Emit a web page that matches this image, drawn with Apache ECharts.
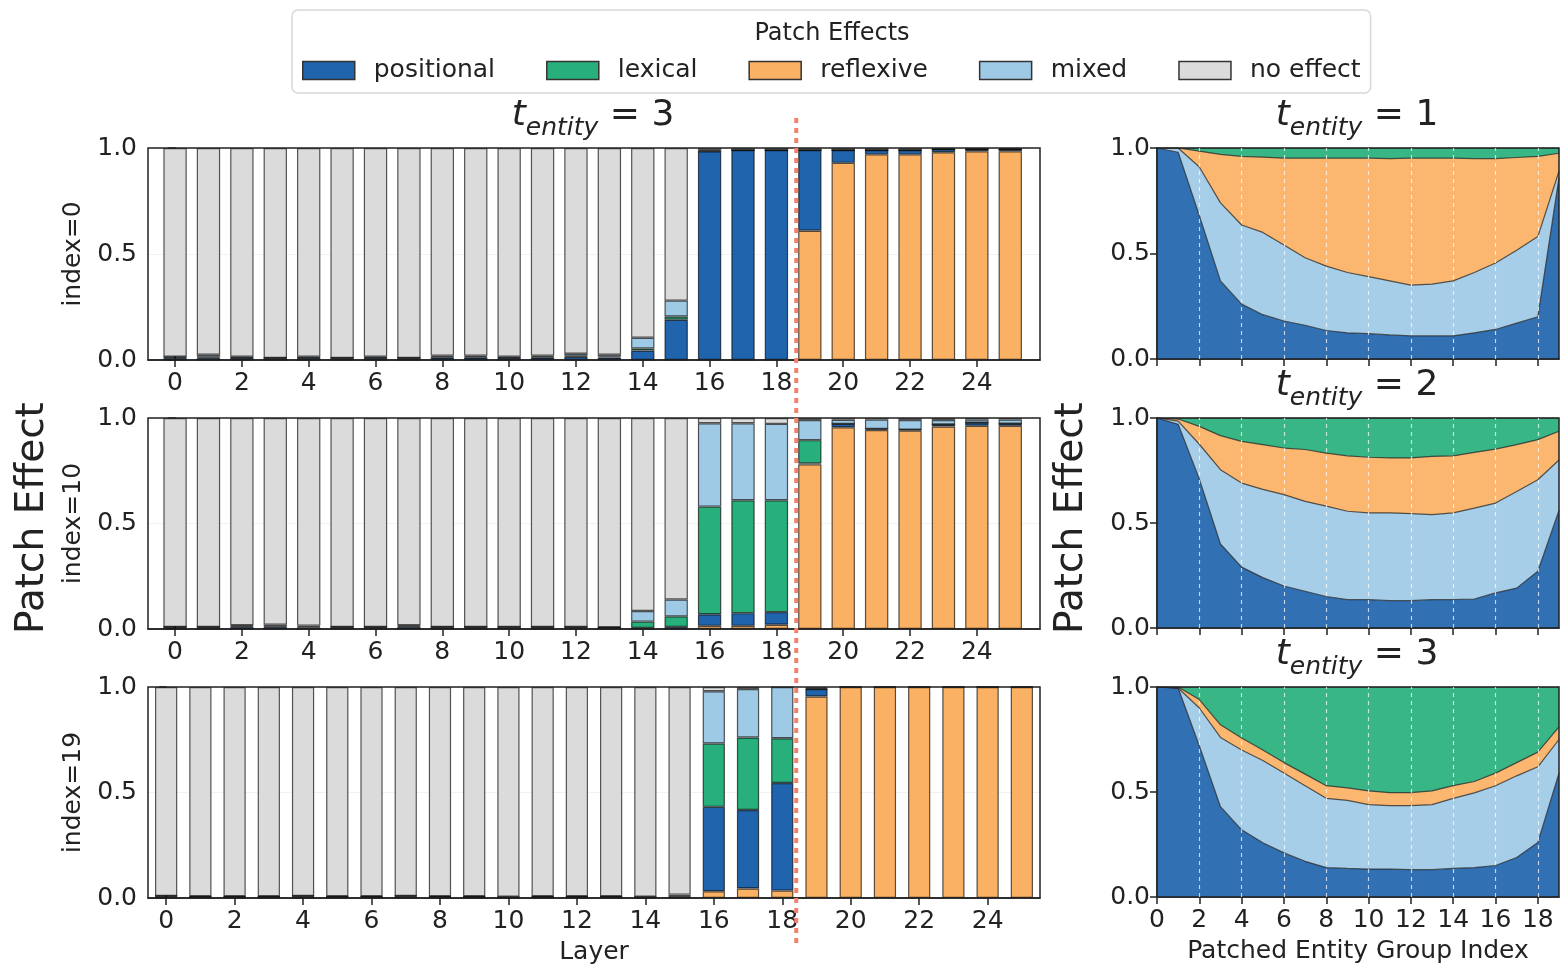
<!DOCTYPE html>
<html>
<head>
<meta charset="utf-8">
<title>Patch Effects</title>
<script src="https://cdn.jsdelivr.net/npm/echarts@6/dist/echarts.min.js"></script>
<style>
  html, body { margin: 0; padding: 0; background: #fff; }
  #chart { width: 1560px; height: 967px; }
</style>
</head>
<body>
<div id="chart"></div>
<script>
// ---- data ----
const layers = [0, 1, 2, 3, 4, 5, 6, 7, 8, 9, 10, 11, 12, 13, 14, 15, 16, 17, 18, 19, 20, 21, 22, 23, 24, 25]
const layerTicks = [0, 2, 4, 6, 8, 10, 12, 14, 16, 18, 20, 22, 24]
const groupIndex = [0, 1, 2, 3, 4, 5, 6, 7, 8, 9, 10, 11, 12, 13, 14, 15, 16, 17, 18, 19]
const groupTicks = [0, 2, 4, 6, 8, 10, 12, 14, 16, 18]
const dividerLayer = 18.5

// left panels: patch index 0 / 10 / 19, t_entity = 3
const idx0Reflexive = [0, 0, 0, 0, 0, 0, 0, 0, 0, 0, 0, 0, 0, 0, 0, 0, 0, 0, 0, 0.610, 0.930, 0.970, 0.970, 0.980, 0.985, 0.985]
const idx0Positional = [0.010, 0.010, 0.010, 0.008, 0.010, 0.008, 0.010, 0.008, 0.012, 0.012, 0.010, 0.012, 0.015, 0.012, 0.045, 0.190, 0.985, 0.990, 0.990, 0.380, 0.060, 0.020, 0.020, 0.015, 0.010, 0.010]
const idx0Lexical = [0.005, 0.005, 0.003, 0.002, 0.003, 0.002, 0.003, 0.002, 0.003, 0.003, 0.003, 0.003, 0.005, 0.005, 0.010, 0.015, 0, 0, 0, 0, 0, 0, 0, 0, 0, 0]
const idx0Mixed = [0, 0.010, 0.002, 0, 0.002, 0, 0.002, 0, 0.005, 0.005, 0.002, 0.005, 0.010, 0.008, 0.050, 0.075, 0.005, 0, 0, 0, 0, 0, 0, 0, 0, 0]
const idx0NoEffect = [0.985, 0.975, 0.985, 0.990, 0.985, 0.990, 0.985, 0.990, 0.980, 0.980, 0.985, 0.980, 0.970, 0.975, 0.895, 0.720, 0.010, 0.010, 0.010, 0.010, 0.010, 0.010, 0.010, 0.005, 0.005, 0.005]

const idx10Reflexive = [0, 0, 0, 0, 0, 0, 0, 0, 0, 0, 0, 0, 0, 0, 0, 0, 0.015, 0.015, 0.020, 0.780, 0.956, 0.943, 0.940, 0.960, 0.963, 0.963]
const idx10Positional = [0.008, 0.008, 0.010, 0.010, 0.008, 0.008, 0.008, 0.010, 0.008, 0.008, 0.008, 0.008, 0.008, 0.006, 0.005, 0.010, 0.055, 0.060, 0.060, 0.005, 0.016, 0.005, 0.005, 0.010, 0.015, 0.010]
const idx10Lexical = [0.002, 0.002, 0.004, 0.004, 0.004, 0.002, 0.002, 0.004, 0.002, 0.002, 0.002, 0.002, 0.002, 0.002, 0.030, 0.050, 0.510, 0.535, 0.530, 0.110, 0, 0, 0, 0, 0, 0]
const idx10Mixed = [0, 0, 0.004, 0.006, 0.004, 0, 0, 0.004, 0, 0, 0, 0, 0, 0, 0.050, 0.080, 0.395, 0.365, 0.362, 0.095, 0.020, 0.045, 0.045, 0.020, 0.015, 0.020]
const idx10NoEffect = [0.990, 0.990, 0.982, 0.980, 0.984, 0.990, 0.990, 0.982, 0.990, 0.990, 0.990, 0.990, 0.990, 0.992, 0.915, 0.860, 0.025, 0.025, 0.028, 0.010, 0.008, 0.007, 0.010, 0.010, 0.007, 0.007]

const idx19Reflexive = [0, 0, 0, 0, 0, 0, 0, 0, 0, 0, 0, 0, 0, 0, 0, 0, 0.032, 0.045, 0.035, 0.955, 1, 1, 1, 1, 1, 1]
const idx19Positional = [0.008, 0.006, 0.006, 0.006, 0.008, 0.006, 0.006, 0.008, 0.006, 0.006, 0.004, 0.006, 0.006, 0.006, 0.004, 0.008, 0.400, 0.372, 0.510, 0.035, 0, 0, 0, 0, 0, 0]
const idx19Lexical = [0.002, 0.002, 0.002, 0.002, 0.002, 0.002, 0.002, 0.002, 0.002, 0.002, 0.002, 0.002, 0.002, 0.002, 0.002, 0.002, 0.300, 0.344, 0.212, 0, 0, 0, 0, 0, 0, 0]
const idx19Mixed = [0, 0, 0, 0, 0, 0, 0, 0, 0, 0, 0, 0, 0, 0, 0, 0.006, 0.248, 0.229, 0.243, 0.005, 0, 0, 0, 0, 0, 0]
const idx19NoEffect = [0.990, 0.992, 0.992, 0.992, 0.990, 0.992, 0.992, 0.990, 0.992, 0.992, 0.994, 0.992, 0.992, 0.992, 0.994, 0.984, 0.020, 0.010, 0, 0.005, 0, 0, 0, 0, 0, 0]

// right panels: t_entity = 1 / 2 / 3
const t1Positional = [1.0, 0.98, 0.68, 0.37, 0.26, 0.21, 0.18, 0.16, 0.135, 0.124, 0.12, 0.114, 0.11, 0.11, 0.11, 0.124, 0.14, 0.17, 0.20, 0.86]
const t1Mixed = [0, 0.02, 0.23, 0.37, 0.375, 0.39, 0.36, 0.32, 0.305, 0.286, 0.27, 0.256, 0.24, 0.245, 0.26, 0.286, 0.315, 0.345, 0.38, 0.03]
const t1Reflexive = [0, 0, 0.075, 0.23, 0.325, 0.357, 0.412, 0.472, 0.512, 0.542, 0.562, 0.58, 0.602, 0.597, 0.582, 0.54, 0.495, 0.44, 0.38, 0.085]
const t1Lexical = [0, 0, 0.015, 0.03, 0.04, 0.043, 0.048, 0.048, 0.048, 0.048, 0.048, 0.05, 0.048, 0.048, 0.048, 0.05, 0.05, 0.045, 0.04, 0.025]

const t2Positional = [1.0, 0.97, 0.71, 0.40, 0.29, 0.24, 0.20, 0.175, 0.15, 0.135, 0.135, 0.13, 0.13, 0.135, 0.135, 0.138, 0.167, 0.19, 0.27, 0.56]
const t2Mixed = [0, 0.015, 0.165, 0.354, 0.40, 0.42, 0.435, 0.428, 0.43, 0.421, 0.413, 0.418, 0.415, 0.405, 0.413, 0.433, 0.428, 0.46, 0.436, 0.24]
const t2Reflexive = [0, 0.01, 0.085, 0.162, 0.199, 0.213, 0.222, 0.247, 0.253, 0.264, 0.265, 0.262, 0.265, 0.277, 0.272, 0.265, 0.257, 0.223, 0.191, 0.137]
const t2Lexical = [0, 0.005, 0.04, 0.084, 0.111, 0.127, 0.143, 0.15, 0.167, 0.18, 0.187, 0.19, 0.19, 0.183, 0.18, 0.164, 0.148, 0.127, 0.103, 0.063]

const t3Positional = [1.0, 0.995, 0.72, 0.43, 0.32, 0.258, 0.21, 0.17, 0.14, 0.136, 0.133, 0.133, 0.13, 0.13, 0.136, 0.14, 0.15, 0.188, 0.26, 0.59]
const t3Mixed = [0, 0, 0.18, 0.33, 0.38, 0.392, 0.38, 0.36, 0.33, 0.324, 0.307, 0.302, 0.305, 0.31, 0.334, 0.356, 0.38, 0.389, 0.36, 0.16]
const t3Reflexive = [0, 0.005, 0.04, 0.06, 0.057, 0.05, 0.05, 0.055, 0.06, 0.06, 0.065, 0.062, 0.062, 0.065, 0.06, 0.054, 0.06, 0.063, 0.07, 0.06]
const t3Lexical = [0, 0, 0.06, 0.18, 0.243, 0.30, 0.36, 0.415, 0.47, 0.48, 0.495, 0.503, 0.503, 0.495, 0.47, 0.45, 0.41, 0.36, 0.31, 0.19]

const effectNames = ['positional', 'lexical', 'reflexive', 'mixed', 'no effect']
const leftIndexLabels = ['index=0', 'index=10', 'index=19']
const rightTEntity = ['1', '2', '3']

// ---- styles ----
const FONT = 'DejaVu Sans'
const TEXT = '#222'
const colors = {
  positional: '#1f64ad',
  lexical: '#27b07b',
  reflexive: '#fbb163',
  mixed: '#9fcae6',
  'no effect': '#dcdbdb'
}

const panelTops = [148, 418, 687]
const panelHeights = [212, 211, 211]
const barLeft = 148
const barFrameWidth = 892
const barXMin = [-0.81, -0.81, -0.53]
const barXMax = [25.89, 25.89, 25.53]
const barWidths = ['70%', '70%', '65%']

const chart = echarts.init(document.getElementById('chart'))

const grids = []
const xAxes = []
const yAxes = []
const series = []

const axisLineStyle = { color: TEXT, width: 1.5 }
const tickFont = { fontSize: 25, fontFamily: FONT, color: TEXT }
const hidden = { show: false }

const valueYAxis = (gi, extra) => Object.assign({
  type: 'value',
  gridIndex: gi,
  min: 0,
  max: 1,
  interval: 0.5,
  axisLine: { show: true, lineStyle: axisLineStyle },
  axisTick: { show: true, length: 7, lineStyle: axisLineStyle },
  axisLabel: Object.assign({ margin: 11, formatter: v => v.toFixed(1) }, tickFont),
  splitLine: { show: false }
}, extra)

// 左侧: 外框网格 (刻度/标签), grid 0..2
for (let i = 0; i < 3; i++) {
  grids.push({
    left: barLeft, width: barFrameWidth, top: panelTops[i], height: panelHeights[i],
    show: true, borderColor: TEXT, borderWidth: 1.5, z: 5
  })
  xAxes.push({
    type: 'value',
    gridIndex: i,
    min: barXMin[i],
    max: barXMax[i],
    axisLine: { show: true, onZero: false, lineStyle: axisLineStyle },
    axisTick: { show: true, length: 7, customValues: layerTicks, lineStyle: axisLineStyle },
    axisLabel: Object.assign({ margin: 11, customValues: layerTicks }, tickFont),
    splitLine: { show: false },
    name: i === 2 ? 'Layer' : '',
    nameLocation: 'middle',
    nameGap: 42,
    nameTextStyle: tickFont
  })
  yAxes.push(valueYAxis(i, {
    name: leftIndexLabels[i],
    nameLocation: 'middle',
    nameRotate: 90,
    nameGap: 62,
    nameTextStyle: tickFont,
    splitLine: { show: true, lineStyle: { color: 'rgba(0,0,0,0.05)', width: 1 } }
  }))
}

// 左侧: 数据网格 (隐藏的类目轴), grid 3..5
const barSets = [
  [idx0Reflexive, idx0Positional, idx0Lexical, idx0Mixed, idx0NoEffect],
  [idx10Reflexive, idx10Positional, idx10Lexical, idx10Mixed, idx10NoEffect],
  [idx19Reflexive, idx19Positional, idx19Lexical, idx19Mixed, idx19NoEffect]
]
const barOrder = ['reflexive', 'positional', 'lexical', 'mixed', 'no effect']

barSets.forEach((set, i) => {
  const gi = i + 3
  const pxPerUnit = barFrameWidth / (barXMax[i] - barXMin[i])
  grids.push({
    left: barLeft + (-0.5 - barXMin[i]) * pxPerUnit,
    width: layers.length * pxPerUnit,
    top: panelTops[i],
    height: panelHeights[i]
  })
  xAxes.push({
    type: 'category', gridIndex: gi, data: layers, boundaryGap: true,
    axisLine: hidden, axisTick: hidden, axisLabel: hidden, splitLine: hidden
  })
  yAxes.push({
    type: 'value', gridIndex: gi, min: 0, max: 1,
    axisLine: hidden, axisTick: hidden, axisLabel: hidden, splitLine: hidden
  })
  set.forEach((values, k) => {
    const name = barOrder[k]
    series.push({
      type: 'bar',
      name: name,
      xAxisIndex: gi,
      yAxisIndex: gi,
      stack: 'bars' + gi,
      barWidth: barWidths[i],
      data: values,
      itemStyle: { color: colors[name], borderColor: 'rgba(0,0,0,0.65)', borderWidth: 1.2 },
      emphasis: { disabled: true },
      silent: true
    })
  })
})

// 右侧堆叠面积图, grid 6..8
const areaSets = [
  [t1Positional, t1Mixed, t1Reflexive, t1Lexical],
  [t2Positional, t2Mixed, t2Reflexive, t2Lexical],
  [t3Positional, t3Mixed, t3Reflexive, t3Lexical]
]
const areaOrder = ['positional', 'mixed', 'reflexive', 'lexical']

areaSets.forEach((set, j) => {
  const gi = j + 6
  grids.push({
    left: 1157, width: 402, top: panelTops[j], height: panelHeights[j] - 1,
    show: true, borderColor: TEXT, borderWidth: 1.5, z: 5
  })
  xAxes.push({
    type: 'category',
    gridIndex: gi,
    data: groupIndex,
    boundaryGap: false,
    axisLine: { show: true, onZero: false, lineStyle: axisLineStyle },
    axisTick: { show: true, length: 7, interval: 1, lineStyle: axisLineStyle },
    axisLabel: Object.assign({ show: j === 2, margin: 11, interval: 1 }, tickFont),
    splitLine: { show: false },
    name: j === 2 ? 'Patched Entity Group Index' : '',
    nameLocation: 'middle',
    nameGap: 42,
    nameTextStyle: tickFont
  })
  yAxes.push(valueYAxis(gi, {
    axisLabel: Object.assign({ margin: 7, formatter: v => v.toFixed(1) }, tickFont)
  }))
  set.forEach((values, k) => {
    const name = areaOrder[k]
    const s = {
      type: 'line',
      name: name,
      xAxisIndex: gi,
      yAxisIndex: gi,
      stack: 'area' + gi,
      symbol: 'none',
      smooth: false,
      data: values,
      lineStyle: { color: 'rgba(35,35,35,0.75)', width: 1.2 },
      areaStyle: { color: colors[name], opacity: 0.92 },
      emphasis: { disabled: true },
      silent: true
    }
    if (k === set.length - 1) {
      // 白色虚线网格, 画在面积之上
      s.markLine = {
        silent: true,
        symbol: ['none', 'none'],
        label: { show: false },
        lineStyle: { color: 'rgba(255,255,255,0.7)', type: [4, 4], width: 1.2 },
        data: groupTicks.filter(v => v > 0).map(v => ({ xAxis: v }))
      }
    }
    series.push(s)
  })
})

// 标题
const titleRich = {
  t: { fontSize: 36, fontStyle: 'italic', fontWeight: 'normal', fontFamily: FONT, color: TEXT, lineHeight: 40, verticalAlign: 'top' },
  s: { fontSize: 25, fontStyle: 'italic', fontWeight: 'normal', fontFamily: FONT, color: TEXT, lineHeight: 26, padding: [18, 0, 0, 0], verticalAlign: 'top' },
  e: { fontSize: 36, fontWeight: 'normal', fontFamily: FONT, color: TEXT, lineHeight: 40, verticalAlign: 'top' }
}
const makeTitle = (x, y, val) => ({
  text: '{t|t}{s|entity}{e| = ' + val + '}',
  left: x,
  top: y,
  textAlign: 'center',
  padding: 0,
  textStyle: { fontWeight: 'normal', rich: titleRich }
})

const titles = [
  makeTitle(593, 98, '3'),
  makeTitle(1357, 98, rightTEntity[0]),
  makeTitle(1357, 368, rightTEntity[1]),
  makeTitle(1357, 637, rightTEntity[2]),
  {
    text: 'Patch Effects',
    left: 832,
    top: 22,
    textAlign: 'center',
    padding: 0,
    textStyle: { fontSize: 24, fontWeight: 'normal', fontFamily: FONT, color: TEXT }
  }
]

const option = {
  animation: false,
  backgroundColor: '#fff',
  title: titles,
  legend: {
    left: 292,
    top: 10,
    padding: [48, 10, 10, 10],
    itemWidth: 52,
    itemHeight: 18,
    itemGap: 51,
    icon: 'rect',
    selectedMode: false,
    borderColor: '#d8d8d8',
    borderWidth: 1.5,
    borderRadius: 6,
    backgroundColor: '#fff',
    textStyle: { fontSize: 25, fontFamily: FONT, color: TEXT, padding: [0, 0, 0, 14] },
    data: effectNames.map(n => ({
      name: n,
      icon: 'rect',
      itemStyle: { color: colors[n], borderColor: '#333', borderWidth: 1.5, opacity: 1 }
    }))
  },
  grid: grids,
  xAxis: xAxes,
  yAxis: yAxes,
  series: series
}

chart.setOption(option)

// 分隔虚线 + 总 y 轴标签
const xTop = chart.convertToPixel({ xAxisIndex: 0 }, dividerLayer)
const xBot = chart.convertToPixel({ xAxisIndex: 2 }, dividerLayer)
const xLine = (xTop + xBot) / 2

chart.setOption({
  graphic: [
    {
      type: 'line',
      z: 100,
      shape: { x1: xLine, y1: 118, x2: xLine, y2: 946 },
      style: { stroke: '#f3826a', lineWidth: 4, lineDash: [5, 5] }
    },
    {
      type: 'text',
      x: 33, y: 518, rotation: Math.PI / 2,
      style: { text: 'Patch Effect', font: '39px "DejaVu Sans"', fill: TEXT, textAlign: 'center', textVerticalAlign: 'middle' }
    },
    {
      type: 'text',
      x: 1072, y: 518, rotation: Math.PI / 2,
      style: { text: 'Patch Effect', font: '39px "DejaVu Sans"', fill: TEXT, textAlign: 'center', textVerticalAlign: 'middle' }
    }
  ]
})
</script>
</body>
</html>
